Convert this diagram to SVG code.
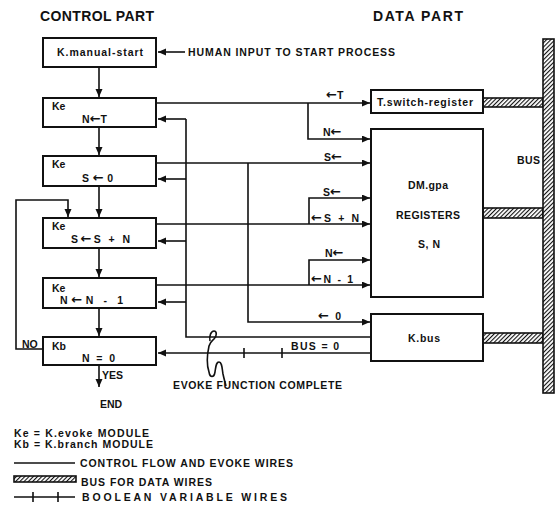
<svg xmlns="http://www.w3.org/2000/svg" width="558" height="532" viewBox="0 0 558 532">
<defs>
<marker id="ah" markerUnits="userSpaceOnUse" markerWidth="9" markerHeight="8" refX="8" refY="3.5" orient="auto">
<path d="M0,0 L8,3.5 L0,7 z" fill="#111"/>
</marker>
<pattern id="hatch" width="3" height="3" patternUnits="userSpaceOnUse" patternTransform="rotate(45)">
<rect width="3" height="3" fill="#fff"/>
<line x1="0.5" y1="0" x2="0.5" y2="3" stroke="#111" stroke-width="1.2"/>
</pattern>
<style>
.t{font-family:"Liberation Sans",Arial,Helvetica,sans-serif;font-weight:bold;font-size:10.5px;fill:#111}
.h{font-size:14px}
.ar{font-family:"DejaVu Sans",sans-serif;font-weight:bold;font-size:13px}
.box{fill:#fff;stroke:#111;stroke-width:2}
.w{fill:none;stroke:#111;stroke-width:1.6}
.a{marker-end:url(#ah)}
.bus{fill:url(#hatch);stroke:#111;stroke-width:1.6}
</style>
</defs>
<rect width="558" height="532" fill="#fff"/>

<text class="t h" x="40" y="21" textLength="114" lengthAdjust="spacing">CONTROL PART</text>
<text class="t h" x="373" y="21" textLength="90" lengthAdjust="spacing">DATA PART</text>

<g id="connectors">
<path class="w a" d="M185,52 H158"/>
<path class="w a" d="M99,67 V97"/>
<path class="w a" d="M99,127 V155"/>
<path class="w a" d="M99,186 V217"/>
<path class="w a" d="M99,248 V277"/>
<path class="w a" d="M99,308 V336"/>
<path class="w a" d="M99,365 V387"/>
<path class="w a" d="M156,103 H370"/>
<path class="w a" d="M308,103 V139 H370"/>
<path class="w a" d="M156,163 H370"/>
<path class="w a" d="M248,163 V322 H370"/>
<path class="w a" d="M156,224 H370"/>
<path class="w a" d="M309,224 V198 H370"/>
<path class="w a" d="M156,285 H370"/>
<path class="w a" d="M309,285 V260 H370"/>
<path class="w" d="M371,337 H186 V119"/>
<path class="w a" d="M186,119 H158"/>
<path class="w a" d="M186,179 H158"/>
<path class="w a" d="M186,241 H158"/>
<path class="w a" d="M186,302 H158"/>
<path class="w a" d="M371,353 H158"/>
<path class="w" d="M244,348 V358 M282,348 V358"/>
<path class="w a" d="M43,349 H16 V200 H68 V217"/>
<path class="w" stroke-width="1.2" d="M210,341 C209,336 211,331 214,331 C217,331 217,336 214,339 C212,341 210,342 209,346 C207,355 207,366 209,372 C210,378 214,378 215,372 C216,366 216,362 219,362 C222,362 222,368 223,374 C224,379 225,382 226,386"/>
</g>

<g id="bus">
<rect class="bus" x="483" y="98" width="60" height="9"/>
<rect class="bus" x="483" y="208" width="60" height="10"/>
<rect class="bus" x="483" y="333" width="60" height="10"/>
<rect class="bus" x="543" y="39" width="11" height="354"/>
<text class="t" x="517" y="164" textLength="23" lengthAdjust="spacing">BUS</text>
</g>

<g id="manual-start">
<rect class="box" x="43" y="38" width="113" height="29"/>
<text class="t" x="57" y="56" textLength="86" lengthAdjust="spacing">K.manual-start</text>
</g>
<text class="t" x="188" y="56" textLength="207" lengthAdjust="spacing">HUMAN INPUT TO START PROCESS</text>

<g id="ke1">
<rect class="box" x="43" y="98" width="113" height="29"/>
<text class="t" x="52" y="110">Ke</text>
<text class="t" x="82" y="123" textLength="25" lengthAdjust="spacing">N<tspan class="ar">←</tspan>T</text>
</g>
<g id="ke2">
<rect class="box" x="43" y="156" width="113" height="30"/>
<text class="t" x="52" y="168">Ke</text>
<text class="t" x="82" y="182" textLength="31" lengthAdjust="spacing">S<tspan class="ar">←</tspan>0</text>
</g>
<g id="ke3">
<rect class="box" x="43" y="218" width="113" height="30"/>
<text class="t" x="52" y="230">Ke</text>
<text class="t" x="71" y="243" textLength="59" lengthAdjust="spacing">S<tspan class="ar">←</tspan>S + N</text>
</g>
<g id="ke4">
<rect class="box" x="43" y="278" width="113" height="30"/>
<text class="t" x="52" y="292">Ke</text>
<text class="t" x="60" y="304" textLength="63" lengthAdjust="spacing">N<tspan class="ar">←</tspan>N - 1</text>
</g>
<g id="kb">
<rect class="box" x="43" y="337" width="113" height="28"/>
<text class="t" x="52" y="350">Kb</text>
<text class="t" x="82" y="362" textLength="33" lengthAdjust="spacing">N = 0</text>
</g>
<text class="t" x="22" y="348">NO</text>
<text class="t" x="102" y="379">YES</text>
<text class="t" x="100" y="408">END</text>

<g id="tswitch">
<rect class="box" x="371" y="90" width="112" height="23"/>
<text class="t" x="377" y="106" textLength="96" lengthAdjust="spacing">T.switch-register</text>
</g>
<g id="dmgpa">
<rect class="box" x="371" y="129" width="112" height="168"/>
<text class="t" x="408" y="189" textLength="40" lengthAdjust="spacing">DM.gpa</text>
<text class="t" x="396" y="219" textLength="64" lengthAdjust="spacing">REGISTERS</text>
<text class="t" x="418" y="248" textLength="22" lengthAdjust="spacing">S, N</text>
</g>
<g id="kbus">
<rect class="box" x="371" y="314" width="112" height="47"/>
<text class="t" x="408" y="342" textLength="32" lengthAdjust="spacing">K.bus</text>
</g>

<g id="wire-labels">
<text class="t" x="326" y="99"><tspan class="ar">←</tspan>T</text>
<text class="t" x="323" y="136">N<tspan class="ar">←</tspan></text>
<text class="t" x="324" y="161">S<tspan class="ar">←</tspan></text>
<text class="t" x="323" y="196">S<tspan class="ar">←</tspan></text>
<text class="t" x="311" y="222" textLength="48" lengthAdjust="spacing"><tspan class="ar">←</tspan>S + N</text>
<text class="t" x="325" y="257">N<tspan class="ar">←</tspan></text>
<text class="t" x="311" y="283" textLength="42" lengthAdjust="spacing"><tspan class="ar">←</tspan>N - 1</text>
<text class="t" x="318" y="320" textLength="23" lengthAdjust="spacing"><tspan class="ar">←</tspan>0</text>
<text class="t" x="291" y="350" textLength="48" lengthAdjust="spacing">BUS = 0</text>
<text class="t" x="173" y="389" textLength="169" lengthAdjust="spacing">EVOKE FUNCTION COMPLETE</text>
</g>

<g id="legend">
<text class="t" x="14" y="437" textLength="135" lengthAdjust="spacing">Ke = K.evoke MODULE</text>
<text class="t" x="14" y="448" textLength="139" lengthAdjust="spacing">Kb = K.branch MODULE</text>
<path class="w" d="M14,463 H75"/>
<text class="t" x="80" y="467" textLength="213" lengthAdjust="spacing">CONTROL FLOW AND EVOKE WIRES</text>
<rect class="bus" x="14" y="476" width="62" height="6" stroke-width="1"/>
<text class="t" x="81" y="486" textLength="131" lengthAdjust="spacing">BUS FOR DATA WIRES</text>
<path class="w" d="M14,497 H75 M33,492 V502 M58,492 V502"/>
<text class="t" x="82" y="501" textLength="205" lengthAdjust="spacing">BOOLEAN VARIABLE WIRES</text>
</g>
</svg>
